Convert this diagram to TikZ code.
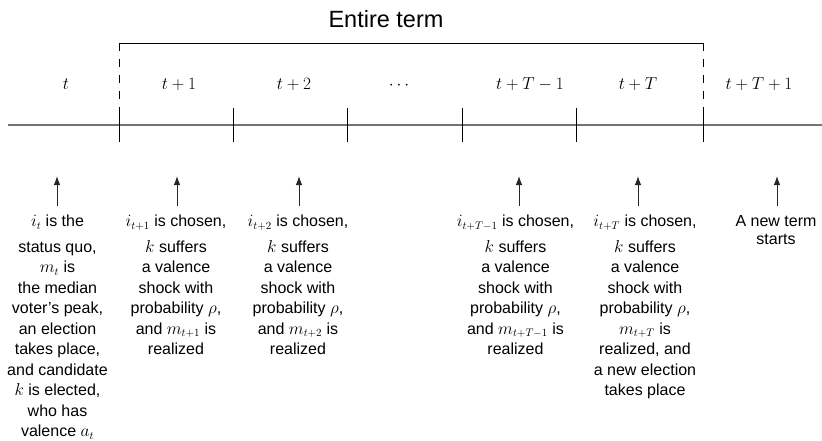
\documentclass[tikz,border=0pt]{standalone}
\usepackage[no-math]{fontspec}
\setmainfont{Liberation Sans}
\usetikzlibrary{arrows.meta}
\tikzset{
  axis/.style={draw=black!55, line width=1.6pt},
  tick/.style={draw=black, line width=0.8pt},
  dashtick/.style={draw=black, line width=0.8pt, dash pattern=on 8pt off 8pt},
  brack/.style={draw=black, line width=0.9pt},
  plbl/.style={anchor=base, inner sep=0pt, font=\fontsize{16}{19}\selectfont},
  ttl/.style={anchor=base, inner sep=0pt, font=\fontsize{23.5}{28}\selectfont},
  blk/.style={anchor=north, inner sep=0pt, align=center, font=\fontsize{16}{20.5}\selectfont},
  arr/.style={draw=black!85, line width=1pt, -{Latex[length=9pt,width=6.5pt]}}
}
\begin{document}
\begin{tikzpicture}[x=1pt,y=-1pt]
\useasboundingbox (0,0) rectangle (822,440);
% timeline
\coordinate (L) at (8,125);
\coordinate (R) at (822,125);
\draw[axis] (L) -- (R);
% bracket
\coordinate (bl) at (119,43);
\coordinate (br) at (703,43);
\coordinate (bl0) at (119,117);
\coordinate (br0) at (703,117);
\draw[brack] (bl) -- (br);
\draw[dashtick] (bl) -- (bl0);
\draw[dashtick] (br) -- (br0);
% ticks
\foreach \n/\x in {k0/119,k1/233,k2/347,k3/462,k4/576,k5/703}{
  \coordinate (\n t) at (\x,108);
  \coordinate (\n b) at (\x,142);
  \draw[tick] (\n t) -- (\n b);
}
% title
\node[ttl] (title) at (386,27) {Entire term};
% period labels
\node[plbl] (p0) at (66,89) {$t$};
\node[plbl] (p1) at (179,89) {$t+1$};
\node[plbl] (p2) at (294,89) {$t+2$};
\node[plbl] (p3) at (399,89) {$\cdots$};
\node[plbl] (p4) at (530,89) {$t+T-1$};
\node[plbl] (p5) at (638,89) {$t+T$};
\node[plbl] (p6) at (759,89) {$t+T+1$};
% blocks
\node[blk] (b1) at (57.5,215) {$i_t$ is the\\[5pt] status quo,\\ $m_t$ is\\ the median\\ voter's peak,\\ an election\\ takes place,\\ and candidate\\ $k$ is elected,\\ who has\\ valence $a_t$};
\node[blk] (b2) at (176,215) {$i_{t+1}$ is chosen,\\[5pt] $k$ suffers\\ a valence\\ shock with\\ probability $\rho$,\\ and $m_{t+1}$ is\\ realized};
\node[blk] (b3) at (298,215) {$i_{t+2}$ is chosen,\\[5pt] $k$ suffers\\ a valence\\ shock with\\ probability $\rho$,\\ and $m_{t+2}$ is\\ realized};
\node[blk] (b4) at (515.5,215) {$i_{t+T-1}$ is chosen,\\[5pt] $k$ suffers\\ a valence\\ shock with\\ probability $\rho$,\\ and $m_{t+T-1}$ is\\ realized};
\node[blk] (b5) at (645,215) {$i_{t+T}$ is chosen,\\[5pt] $k$ suffers\\ a valence\\ shock with\\ probability $\rho$,\\ $m_{t+T}$ is\\ realized, and\\ a new election\\ takes place};
\node[blk] (b6) at (776,215) {A new term\\[-2pt] starts};
% arrows
\foreach \n/\x in {1/57,2/177,3/299,4/519,5/638,6/777}{
  \coordinate (a\n s) at (\x,206);
  \coordinate (a\n e) at (\x,176);
  \draw[arr] (a\n s) -- (a\n e);
}
\end{tikzpicture}
\end{document}
